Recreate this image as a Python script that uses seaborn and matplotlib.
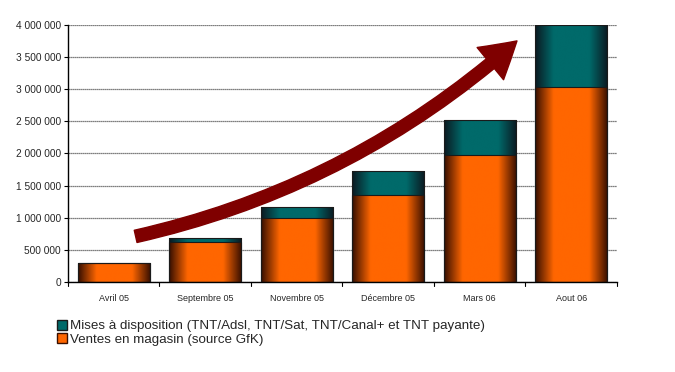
import numpy as np
import pandas as pd
import matplotlib
matplotlib.use("Agg")
import matplotlib.pyplot as plt
import seaborn as sns
from matplotlib.colors import LinearSegmentedColormap
from matplotlib.patches import Patch, FancyArrowPatch

periodes = ["Avril 05", "Septembre 05", "Novembre 05", "Décembre 05", "Mars 06", "Aout 06"]
ventes = [300000, 615000, 1000000, 1355000, 1980000, 3040000]
mises = [0, 75000, 160000, 375000, 540000, 960000]
lab_mises = "Mises à disposition (TNT/Adsl, TNT/Sat, TNT/Canal+ et TNT payante)"
lab_ventes = "Ventes en magasin (source GfK)"

df = pd.DataFrame({"periode": periodes, "ventes": ventes, "mises": mises})
df["total"] = df["ventes"] + df["mises"]

sns.set_style("white")
plt.rcParams['font.family'] = ['Liberation Sans', 'DejaVu Sans']

fig = plt.figure(figsize=(6.75, 3.72), dpi=100)
ax = fig.add_axes([0.1007, 0.242, 0.8133, 0.691])

orange = "#ff6600"
teal = "#006a6a"
sns.barplot(data=df, x="periode", y="total", color=teal, width=0.79, saturation=1,
            edgecolor="#1a1a1a", linewidth=0.8, ax=ax)
sns.barplot(data=df, x="periode", y="ventes", color=orange, width=0.79, saturation=1,
            edgecolor="#1a1a1a", linewidth=0.8, ax=ax)

# fake the shaded cylinder look of the original
n = len(periodes)
for i, p in enumerate(ax.patches):
    base = teal if i < n else orange
    dark = "#0b1a22" if i < n else "#3a1000"
    cmap = LinearSegmentedColormap.from_list("g", [dark, base, base, base, dark])
    x0, w = p.get_x(), p.get_width()
    y0, h = p.get_y(), p.get_height()
    if h <= 0:
        continue
    grad = np.linspace(0, 1, 64).reshape(1, -1)
    im = ax.imshow(grad, cmap=cmap, aspect="auto", extent=[x0, x0 + w, y0, y0 + h],
                   zorder=p.get_zorder(), interpolation="bicubic")
    im.set_clip_path(p)
for p in ax.patches:
    p.set_facecolor("none")
    p.set_zorder(3)

ax.set_xlim(-0.5, n - 0.5)
ax.set_ylim(0, 4000000)
ax.set_yticks(np.arange(0, 4000001, 500000))
ax.set_yticklabels([f"{v:,}".replace(",", " ") for v in range(0, 4000001, 500000)], fontsize=7.3)
ax.yaxis.grid(True, color="#555555", linestyle=(0, (1, 0.6)), linewidth=0.9)
ax.set_axisbelow(True)
ax.set_xlabel("")
ax.set_ylabel("")
ax.set_xticks(range(n))
ax.set_xticklabels(periodes, fontsize=6.5)
ax.tick_params(axis="x", length=0, pad=9)
ax.tick_params(axis="y", length=3, width=0.8, color="black", left=True, pad=2)
for b in np.arange(-0.5, n, 1.0):
    ax.plot([b, b], [0, -0.016], transform=ax.get_xaxis_transform(), color="black",
            lw=0.8, clip_on=False)
for s in ["top", "right"]:
    ax.spines[s].set_visible(False)
for s in ["left", "bottom"]:
    ax.spines[s].set_color("black")
    ax.spines[s].set_linewidth(1)

arrow = FancyArrowPatch((0.21, 700000), (4.43, 3780000), connectionstyle="arc3,rad=0.13",
                        arrowstyle="simple,head_length=2.1,tail_width=0.75,head_width=2.5",
                        mutation_scale=12, color="#7f0000", zorder=5)
ax.add_patch(arrow)

handles = [Patch(facecolor=teal, edgecolor="#1a1a1a", label=lab_mises),
           Patch(facecolor=orange, edgecolor="#3a1000", label=lab_ventes)]
fig.legend(handles=handles, loc="upper left", bbox_to_anchor=(0.076, 0.155), frameon=False,
           fontsize=9.6, handlelength=0.8, handleheight=0.8, handletextpad=0.2,
           labelspacing=0.05, borderaxespad=0)

fig.savefig("out.png", dpi=100)
